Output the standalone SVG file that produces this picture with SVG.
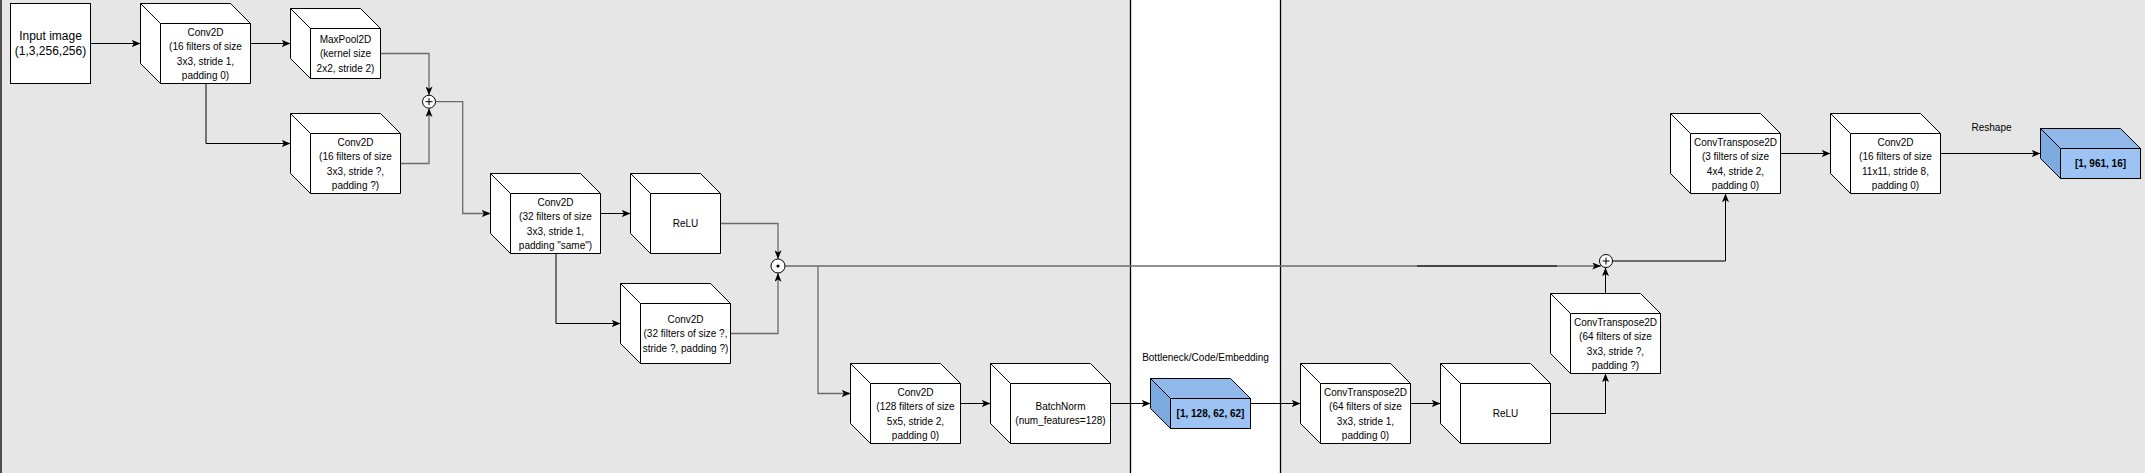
<svg xmlns="http://www.w3.org/2000/svg" width="2145" height="473" viewBox="0 0 2145 473">
<style>
.cube{fill:#fff;stroke:#000;stroke-width:1}
.edge{fill:none;stroke:#000;stroke-width:1}
.ln{fill:none;stroke:#000;stroke-width:1}
.t{font-family:"Liberation Sans",Arial,sans-serif;font-size:10px;fill:#000;text-anchor:middle}
.big{font-size:12px}
.b{font-weight:bold}
.c{fill:none;stroke:#000;stroke-width:1}
.g{stroke:#6b6b6b;stroke-width:1.3}
.k{stroke:#000;stroke-width:1}
.op{fill:#fff;stroke:#000;stroke-width:1}
</style>
<defs>
<marker id="arr" viewBox="0 0 10 8" refX="10" refY="4" markerWidth="9" markerHeight="7" markerUnits="userSpaceOnUse" orient="auto">
<path d="M0,0 L10,4 L0,8 L2.5,4 Z" fill="#000"/>
</marker>
</defs>
<g id="background">
<rect x="0" y="0" width="1130.5" height="473" fill="#e6e6e6"/>
<rect x="1130.5" y="0" width="150" height="473" fill="#ffffff"/>
<rect x="1280.5" y="0" width="864.5" height="473" fill="#e6e6e6"/>
<line x1="1" y1="0" x2="1" y2="473" stroke="#000" stroke-width="1.3"/>
<line x1="1130.5" y1="0" x2="1130.5" y2="473" stroke="#000" stroke-width="1.3"/>
<line x1="1280.5" y1="0" x2="1280.5" y2="473" stroke="#000" stroke-width="1.3"/>
</g>
<g id="connectors">
<path class="edge" d="M90.5,43.5 H140.5" marker-end="url(#arr)"/>
<path class="edge" d="M250.5,43.5 H290.5" marker-end="url(#arr)"/>
<path class="edge" d="M206,83.5 V143.5 H290.5" marker-end="url(#arr)"/>
<path class="edge g" d="M380.5,53.5 H429 V95.2" marker-end="url(#arr)"/>
<path class="edge g" d="M400.5,163.5 H429 V108.2" marker-end="url(#arr)"/>
<path class="edge g" d="M435.5,101.7 H462.7 V213.5 H490.5" marker-end="url(#arr)"/>
<path class="edge" d="M600.5,213.5 H630.5" marker-end="url(#arr)"/>
<path class="edge g" d="M720.5,223.5 H778 V259" marker-end="url(#arr)"/>
<path class="edge" d="M556,253.5 V323.5 H620.5" marker-end="url(#arr)"/>
<path class="edge g" d="M730.5,333.5 H778 V273" marker-end="url(#arr)"/>
<path class="edge g" d="M785,266 H1601" marker-end="url(#arr)"/>
<path class="edge" d="M1417,266 H1557"/>
<path class="edge g" d="M818,266 V393.5 H850.5" marker-end="url(#arr)"/>
<path class="edge" d="M960.5,403.5 H990.5" marker-end="url(#arr)"/>
<path class="edge" d="M1110.5,403.5 H1150.5" marker-end="url(#arr)"/>
<path class="edge" d="M1250.5,403.5 H1300.5" marker-end="url(#arr)"/>
<path class="edge" d="M1410.5,403.5 H1440.5" marker-end="url(#arr)"/>
<path class="edge" d="M1550.5,413.5 H1605.5 V373.5" marker-end="url(#arr)"/>
<path class="edge" d="M1605.5,293.5 V267.5" marker-end="url(#arr)"/>
<path class="edge" d="M1612.5,261 H1725.5 V193.5" marker-end="url(#arr)"/>
<path class="edge g" d="M1612.5,261 H1725"/>
<path class="edge" d="M1780.5,153.5 H1830.5" marker-end="url(#arr)"/>
<path class="edge" d="M1940.5,153.5 H2040.5" marker-end="url(#arr)"/>
</g>
<g id="input">
<rect class="cube" x="10.5" y="3.5" width="80" height="80"/>
<text class="t big" x="50.5" y="40">Input image</text>
<text class="t big" x="50.5" y="55">(1,3,256,256)</text>
</g>
<g id="conv1">
<path class="cube" d="M140.5,3.5 H230.5 L250.5,23.5 V83.5 H160.5 L140.5,63.5 Z"/>
<path class="ln" d="M140.5,3.5 L160.5,23.5 H250.5 M160.5,23.5 V83.5"/>
<text class="t" x="205.5" y="36">Conv2D</text>
<text class="t" x="205.5" y="50.4">(16 filters of size</text>
<text class="t" x="205.5" y="64.8">3x3, stride 1,</text>
<text class="t" x="205.5" y="79.2">padding 0)</text>
</g>
<g id="maxpool">
<path class="cube" d="M290.5,8.5 H360.5 L380.5,28.5 V78.5 H310.5 L290.5,58.5 Z"/>
<path class="ln" d="M290.5,8.5 L310.5,28.5 H380.5 M310.5,28.5 V78.5"/>
<text class="t" x="345.5" y="43">MaxPool2D</text>
<text class="t" x="345.5" y="57.4">(kernel size</text>
<text class="t" x="345.5" y="71.8">2x2, stride 2)</text>
</g>
<g id="conv2">
<path class="cube" d="M290.5,113.5 H380.5 L400.5,133.5 V193.5 H310.5 L290.5,173.5 Z"/>
<path class="ln" d="M290.5,113.5 L310.5,133.5 H400.5 M310.5,133.5 V193.5"/>
<text class="t" x="355.5" y="146">Conv2D</text>
<text class="t" x="355.5" y="160.4">(16 filters of size</text>
<text class="t" x="355.5" y="174.8">3x3, stride ?,</text>
<text class="t" x="355.5" y="189.2">padding ?)</text>
</g>
<g id="plus1">
<circle class="op" cx="429" cy="101.7" r="6.5"/>
<path class="ln" d="M425.5,101.7 H432.5 M429,98.2 V105.2"/>
</g>
<g id="conv3">
<path class="cube" d="M490.5,173.5 H580.5 L600.5,193.5 V253.5 H510.5 L490.5,233.5 Z"/>
<path class="ln" d="M490.5,173.5 L510.5,193.5 H600.5 M510.5,193.5 V253.5"/>
<text class="t" x="555.5" y="206">Conv2D</text>
<text class="t" x="555.5" y="220.4">(32 filters of size</text>
<text class="t" x="555.5" y="234.8">3x3, stride 1,</text>
<text class="t" x="555.5" y="249.2">padding "same")</text>
</g>
<g id="relu1">
<path class="cube" d="M630.5,173.5 H700.5 L720.5,193.5 V253.5 H650.5 L630.5,233.5 Z"/>
<path class="ln" d="M630.5,173.5 L650.5,193.5 H720.5 M650.5,193.5 V253.5"/>
<text class="t" x="685.5" y="227">ReLU</text>
</g>
<g id="conv4">
<path class="cube" d="M620.5,283.5 H710.5 L730.5,303.5 V363.5 H640.5 L620.5,343.5 Z"/>
<path class="ln" d="M620.5,283.5 L640.5,303.5 H730.5 M640.5,303.5 V363.5"/>
<text class="t" x="685.5" y="323">Conv2D</text>
<text class="t" x="685.5" y="337.4">(32 filters of size ?,</text>
<text class="t" x="685.5" y="351.8">stride ?, padding ?)</text>
</g>
<g id="mult">
<circle class="op" cx="778" cy="266" r="7"/>
<circle cx="778" cy="266" r="1.6" fill="#000"/>
</g>
<g id="conv5">
<path class="cube" d="M850.5,363.5 H940.5 L960.5,383.5 V443.5 H870.5 L850.5,423.5 Z"/>
<path class="ln" d="M850.5,363.5 L870.5,383.5 H960.5 M870.5,383.5 V443.5"/>
<text class="t" x="915.5" y="396">Conv2D</text>
<text class="t" x="915.5" y="410.4">(128 filters of size</text>
<text class="t" x="915.5" y="424.8">5x5, stride 2,</text>
<text class="t" x="915.5" y="439.2">padding 0)</text>
</g>
<g id="batchnorm">
<path class="cube" d="M990.5,363.5 H1090.5 L1110.5,383.5 V443.5 H1010.5 L990.5,423.5 Z"/>
<path class="ln" d="M990.5,363.5 L1010.5,383.5 H1110.5 M1010.5,383.5 V443.5"/>
<text class="t" x="1060.5" y="410">BatchNorm</text>
<text class="t" x="1060.5" y="424.4">(num_features=128)</text>
</g>
<g id="bottleneck">
<text class="t" x="1205.5" y="361">Bottleneck/Code/Embedding</text>
<path d="M1150.5,378.5 H1230.5 L1250.5,398.5 H1170.5 Z" fill="#90b8ea" stroke="#000"/>
<path d="M1150.5,378.5 L1170.5,398.5 V428.5 L1150.5,408.5 Z" fill="#7eabdf" stroke="#000"/>
<rect x="1170.5" y="398.5" width="80" height="30" fill="#9cc3f4" stroke="#000"/>
<text class="t b" x="1210.5" y="417">[1, 128, 62, 62]</text>
</g>
<g id="convT1">
<path class="cube" d="M1300.5,363.5 H1390.5 L1410.5,383.5 V443.5 H1320.5 L1300.5,423.5 Z"/>
<path class="ln" d="M1300.5,363.5 L1320.5,383.5 H1410.5 M1320.5,383.5 V443.5"/>
<text class="t" x="1365.5" y="396">ConvTranspose2D</text>
<text class="t" x="1365.5" y="410.4">(64 filters of size</text>
<text class="t" x="1365.5" y="424.8">3x3, stride 1,</text>
<text class="t" x="1365.5" y="439.2">padding 0)</text>
</g>
<g id="relu2">
<path class="cube" d="M1440.5,363.5 H1530.5 L1550.5,383.5 V443.5 H1460.5 L1440.5,423.5 Z"/>
<path class="ln" d="M1440.5,363.5 L1460.5,383.5 H1550.5 M1460.5,383.5 V443.5"/>
<text class="t" x="1505.5" y="417">ReLU</text>
</g>
<g id="convT2">
<path class="cube" d="M1550.5,293.5 H1640.5 L1660.5,313.5 V373.5 H1570.5 L1550.5,353.5 Z"/>
<path class="ln" d="M1550.5,293.5 L1570.5,313.5 H1660.5 M1570.5,313.5 V373.5"/>
<text class="t" x="1615.5" y="326">ConvTranspose2D</text>
<text class="t" x="1615.5" y="340.4">(64 filters of size</text>
<text class="t" x="1615.5" y="354.8">3x3, stride ?,</text>
<text class="t" x="1615.5" y="369.2">padding ?)</text>
</g>
<g id="plus2">
<circle class="op" cx="1606" cy="261" r="6.5"/>
<path class="ln" d="M1602.5,261 H1609.5 M1606,257.5 V264.5"/>
</g>
<g id="convT3">
<path class="cube" d="M1670.5,113.5 H1760.5 L1780.5,133.5 V193.5 H1690.5 L1670.5,173.5 Z"/>
<path class="ln" d="M1670.5,113.5 L1690.5,133.5 H1780.5 M1690.5,133.5 V193.5"/>
<text class="t" x="1735.5" y="146">ConvTranspose2D</text>
<text class="t" x="1735.5" y="160.4">(3 filters of size</text>
<text class="t" x="1735.5" y="174.8">4x4, stride 2,</text>
<text class="t" x="1735.5" y="189.2">padding 0)</text>
</g>
<g id="conv6">
<path class="cube" d="M1830.5,113.5 H1920.5 L1940.5,133.5 V193.5 H1850.5 L1830.5,173.5 Z"/>
<path class="ln" d="M1830.5,113.5 L1850.5,133.5 H1940.5 M1850.5,133.5 V193.5"/>
<text class="t" x="1895.5" y="146">Conv2D</text>
<text class="t" x="1895.5" y="160.4">(16 filters of size</text>
<text class="t" x="1895.5" y="174.8">11x11, stride 8,</text>
<text class="t" x="1895.5" y="189.2">padding 0)</text>
</g>
<g id="output">
<text class="t" x="1991.5" y="131">Reshape</text>
<path d="M2040.5,128.5 H2120.5 L2140.5,148.5 H2060.5 Z" fill="#90b8ea" stroke="#000"/>
<path d="M2040.5,128.5 L2060.5,148.5 V178.5 L2040.5,158.5 Z" fill="#7eabdf" stroke="#000"/>
<rect x="2060.5" y="148.5" width="80" height="30" fill="#9cc3f4" stroke="#000"/>
<text class="t b" x="2100.5" y="167">[1, 961, 16]</text>
</g>
</svg>
